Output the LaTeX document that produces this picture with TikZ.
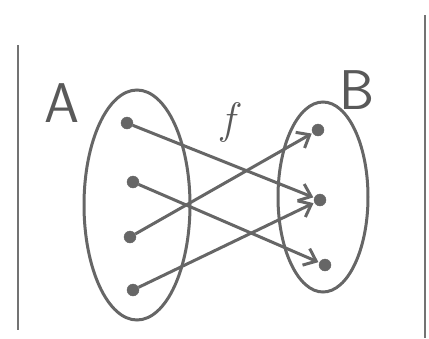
\documentclass[tikz,border=0pt]{standalone}
\usepackage{tikz}
\usetikzlibrary{positioning,arrows.meta}

\begin{document}
\begin{tikzpicture}[x=1pt, y=-1pt,
  pt/.style={circle, fill=black!60, draw=black!60, inner sep=0pt, minimum size=12pt},
  lbl/.style={text=black!65, font=\fontsize{56}{56}\selectfont\sffamily},
  map/.style={draw=black!60, line width=3pt, -{Straight Barb[length=11pt, width=18pt]}, shorten >=1pt},
  >={Stealth}]
\useasboundingbox (0,0) rectangle (429,338);
\draw[black!55, line width=2pt] (18,45) -- (18,330);
\draw[black!55, line width=2pt] (425,15) -- (425,338);
% the two sets
\draw[black!60, line width=3pt] (137,205) ellipse [x radius=53, y radius=115];
\draw[black!60, line width=3pt] (323,197) ellipse [x radius=45, y radius=95];
\node[lbl] (la) at (62,103) {A};
\node[lbl] (lb) at (357,90) {B};
\node[text=black!65, font=\fontsize{44}{44}\selectfont\itshape] (lf) at (228,122) {f};
% elements
\node[pt] (a1) at (127,123) {};
\node[pt] (a2) at (133,182) {};
\node[pt] (a3) at (130,237) {};
\node[pt] (a4) at (133,290) {};
\node[pt] (b1) at (318,130) {};
\node[pt] (b2) at (320,200) {};
\node[pt] (b3) at (325,265) {};
\draw[map] (a1) -- (b2);
\draw[map] (a2) -- (b3);
\draw[map] (a3) -- (b1);
\draw[map] (a4) -- (b2);
\end{tikzpicture}
\end{document}
